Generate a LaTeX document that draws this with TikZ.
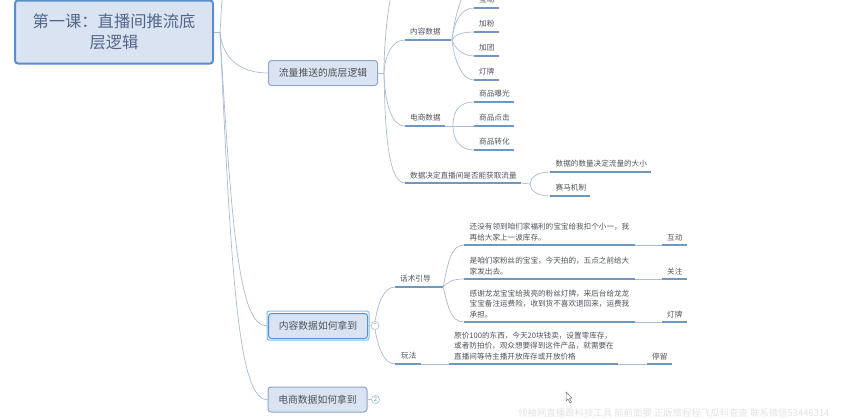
\documentclass[tikz,border=0pt]{standalone}
\usepackage{fontspec}
\setmainfont{Noto Sans CJK SC}
\begin{document}
\begin{tikzpicture}[x=1pt,y=-1pt,
  txt/.style={inner sep=0pt,text=txtc,font=\fontsize{7.6}{10.3}\selectfont},
  sub/.style={txt,align=left,anchor=south west},
  rootbox/.style={draw=rootb,line width=2pt,rounded corners=3pt,fill=boxf,text=roott,align=center,font=\fontsize{16.3}{21}\selectfont,minimum width=198pt,minimum height=63pt,inner sep=0pt},
  mainbox/.style={draw=mainb,line width=1pt,rounded corners=3pt,fill=boxf,text=txtc,font=\fontsize{9.8}{12}\selectfont,minimum width=109pt,minimum height=25pt,inner sep=0pt},
  conn/.style={draw=connc,line width=.7pt},
  ul/.style={draw=ulc,line width=1.5pt},
  ulfade/.style={draw=connc,line width=1pt},
  badge/.style={circle,draw=connc,line width=.6pt,fill=white,minimum size=8pt,inner sep=0pt,text=ulc,font=\fontsize{6}{6}\selectfont},
  wm/.style={inner sep=0pt,anchor=west,text=black!11,font=\fontsize{9.4}{10}\selectfont}
]
\definecolor{rootb}{HTML}{5B8FCB}\definecolor{roott}{HTML}{54678A}
\definecolor{boxf}{HTML}{DAE3F1}\definecolor{mainb}{HTML}{8CA6C8}
\definecolor{txtc}{HTML}{4F545C}\definecolor{connc}{HTML}{A9BCD0}
\definecolor{ulc}{HTML}{6F97C1}\definecolor{selc}{HTML}{7FC0E8}
\useasboundingbox (0,0) rectangle (850,418);
\fill[white] (0,0) rectangle (850,418);

\coordinate (rj) at (220,32);
\coordinate (m1j) at (384,73);
\node[rootbox] (root) at (114,32) {第一课：直播间推流底\\层逻辑};
\node[mainbox] (m1) at (323,73) {流量推送的底层逻辑};
\node[draw=selc,line width=1pt,rounded corners=2pt,minimum width=102pt,minimum height=29pt,inner sep=0pt] (selo) at (318,325.5) {};
\coordinate (m2w) at (267,326);
\coordinate (m3w) at (268,400);
\draw[conn] (root.east) -- (rj);
\draw[conn] (rj) .. controls (222,58) and (240,73) .. (m1.west);
\draw[conn] (rj) .. controls (232,240) and (240,326) .. (m2w);
\draw[conn] (rj) .. controls (232,300) and (240,400) .. (m3w);
\draw[conn] (rj) .. controls (221,20) and (221,10) .. (222,0);
\node[mainbox,draw=rootb,minimum width=99pt] (m2) at (318,326) {内容数据如何拿到};
\node[mainbox,minimum width=99pt] (m3) at (317.5,399.5) {电商数据如何拿到};
\coordinate (top1) at (390,0);
\draw[conn] (m1.east) -- (m1j);
\draw[conn] (top1) .. controls (386,25) and (384,50) .. (m1j);

% level 2 upper
\node[sub] (n1) at (410,35) {内容数据};
\node[sub] (n2) at (410,121) {电商数据};
\node[sub] (n3) at (410,179) {数据决定直播间是否能获取流量};
\coordinate (n1a) at (405,40); \coordinate (n1b) at (451,40);
\coordinate (n2a) at (405,126); \coordinate (n2b) at (445,126);
\coordinate (n3a) at (405,183); \coordinate (n3b) at (521,183);
\draw[conn] (m1j) .. controls (385,55) and (392,40) .. (n1a);
\draw[conn] (m1j) .. controls (385,105) and (392,126) .. (n2a);
\draw[conn] (m1j) .. controls (385,130) and (388,183) .. (n3a);
\draw[ul] (n1a) -- (n1b);
\draw[ul] (n2a) -- (n2b);
\draw[ul] (n3a) -- (n3b);

% leaves content
\node[sub] (a0) at (479,3) {互动};
\node[sub] (a1) at (479,27) {加粉};
\node[sub] (a2) at (479,51) {加团};
\node[sub] (a3) at (479,75) {灯牌};
\coordinate (a0a) at (474,8); \coordinate (a0b) at (499,8);
\coordinate (a1a) at (474,32); \coordinate (a1b) at (499,32);
\coordinate (a2a) at (474,56); \coordinate (a2b) at (499,56);
\coordinate (a3a) at (474,80); \coordinate (a3b) at (499,80);
\coordinate (n1j) at (452,40);
\coordinate (top2) at (461,0);
\draw[conn] (n1j) .. controls (454,20) and (462,8) .. (a0a);
\draw[conn] (n1j) .. controls (454,35) and (462,32) .. (a1a);
\draw[conn] (n1j) .. controls (454,47) and (462,56) .. (a2a);
\draw[conn] (n1j) .. controls (454,60) and (462,80) .. (a3a);
\draw[conn] (n1j) .. controls (454,20) and (458,10) .. (top2);
\foreach \p in {a0,a1,a2,a3} \draw[ul] (\p a) -- (\p b);

% leaves commerce
\node[sub] (c1) at (479,97) {商品曝光};
\node[sub] (c2) at (479,121) {商品点击};
\node[sub] (c3) at (479,145) {商品转化};
\coordinate (c1a) at (474,102); \coordinate (c1b) at (514,102);
\coordinate (c2a) at (474,126); \coordinate (c2b) at (514,126);
\coordinate (c3a) at (474,150); \coordinate (c3b) at (514,150);
\coordinate (n2j) at (453,126);
\draw[conn] (n2b) -- (c2a);
\draw[conn] (n2j) .. controls (453,110) and (460,102) .. (c1a);
\draw[conn] (n2j) .. controls (453,140) and (460,150) .. (c3a);
\foreach \p in {c1,c2,c3} \draw[ul] (\p a) -- (\p b);

% decide
\node[sub] (d1) at (555.5,167) {数据的数量决定流量的大小};
\node[sub] (d2) at (555.5,191) {赛马机制};
\coordinate (d1a) at (550,172); \coordinate (d1b) at (651,172);
\coordinate (d2a) at (550,196); \coordinate (d2b) at (590,196);
\coordinate (n3j) at (530,184);
\draw[conn] (n3b) -- (n3j);
\draw[conn] (n3j) .. controls (530,177) and (538,172) .. (d1a);
\draw[conn] (n3j) .. controls (530,191) and (538,196) .. (d2a);
\draw[ul] (d1a) -- (d1b);
\draw[ul] (d2a) -- (d2b);

% lower part
\node[badge] (b2) at (375,325.5) {−};
\node[badge] (b3) at (375.5,399.5) {2};
\draw[conn] (m2.east) -- (b2);
\draw[conn] (m3.east) -- (b3);
\node[sub] (t1) at (400,282) {话术引导};
\node[sub] (t2) at (401,359) {玩法};
\coordinate (t1a) at (395,287); \coordinate (t1b) at (443,287);
\coordinate (t2a) at (395,364); \coordinate (t2b) at (421,364);
\draw[conn] (b2.north) .. controls (378,305) and (383,287) .. (t1a);
\draw[conn] (b2.south) .. controls (378,345) and (383,364) .. (t2a);
\draw[ul] (t1a) -- (t1b);
\draw[ul] (t2a) -- (t2b);

\node[sub] (s1) at (469.5,241) {还没有领到咱们家福利的宝宝给我扣个小一，我\\再给大家上一波库存。};
\node[sub] (s2) at (469.5,275) {是咱们家粉丝的宝宝，今天拍的，五点之前给大\\家发出去。};
\node[sub] (s3) at (469.5,318) {感谢龙龙宝宝给我亮的粉丝灯牌，来后台给龙龙\\宝宝备注运费险，收到货不喜欢退回来，运费我\\承担。};
\node[sub] (s4) at (454,360) {原价100的东西，今天20块钱卖，设置零库存，\\或者防拍价，观众想要得到这件产品，就需要在\\直播间等待主播开放库存或开放价格};
\node[sub] (k1) at (667,241) {互动};
\node[sub] (k2) at (667,275) {关注};
\node[sub] (k3) at (667,318) {灯牌};
\node[sub] (k4) at (652,360) {停留};
\coordinate (s1a) at (464,245); \coordinate (s1b) at (635,245); \coordinate (k1a) at (662,245); \coordinate (k1b) at (687,245);
\coordinate (s2a) at (464,279); \coordinate (s2b) at (635,279); \coordinate (k2a) at (662,279); \coordinate (k2b) at (687,279);
\coordinate (s3a) at (464,322); \coordinate (s3b) at (635,322); \coordinate (k3a) at (662,322); \coordinate (k3b) at (687,322);
\coordinate (s4a) at (449,364); \coordinate (s4b) at (618,364); \coordinate (k4a) at (647,364); \coordinate (k4b) at (672,364);
\draw[conn] (t1b) .. controls (448,265) and (450,245) .. (s1a);
\draw[conn] (t1b) .. controls (448,282) and (452,279) .. (s2a);
\draw[conn] (t1b) .. controls (448,305) and (450,322) .. (s3a);
\foreach \p in {1,2,3,4} {
  \draw[ulfade] (s\p b) -- (k\p a);
  \draw[ul] (s\p a) -- (s\p b);
  \draw[ul] (k\p a) -- (k\p b);
}
\draw[ulfade] (t2b) -- (s4a);

\node[wm] (w1) at (518,413) {领袖网直播跟科技工具 前前面要 正版旅程程飞瓜科查查 联系微信53446314};
\draw[black!55,fill=white,line width=.5pt] (566,392) -- (566,401) -- (568,399) -- (570,403) -- (571.5,402) -- (569.5,398.5) -- (572,398) -- cycle;
\end{tikzpicture}
\end{document}
